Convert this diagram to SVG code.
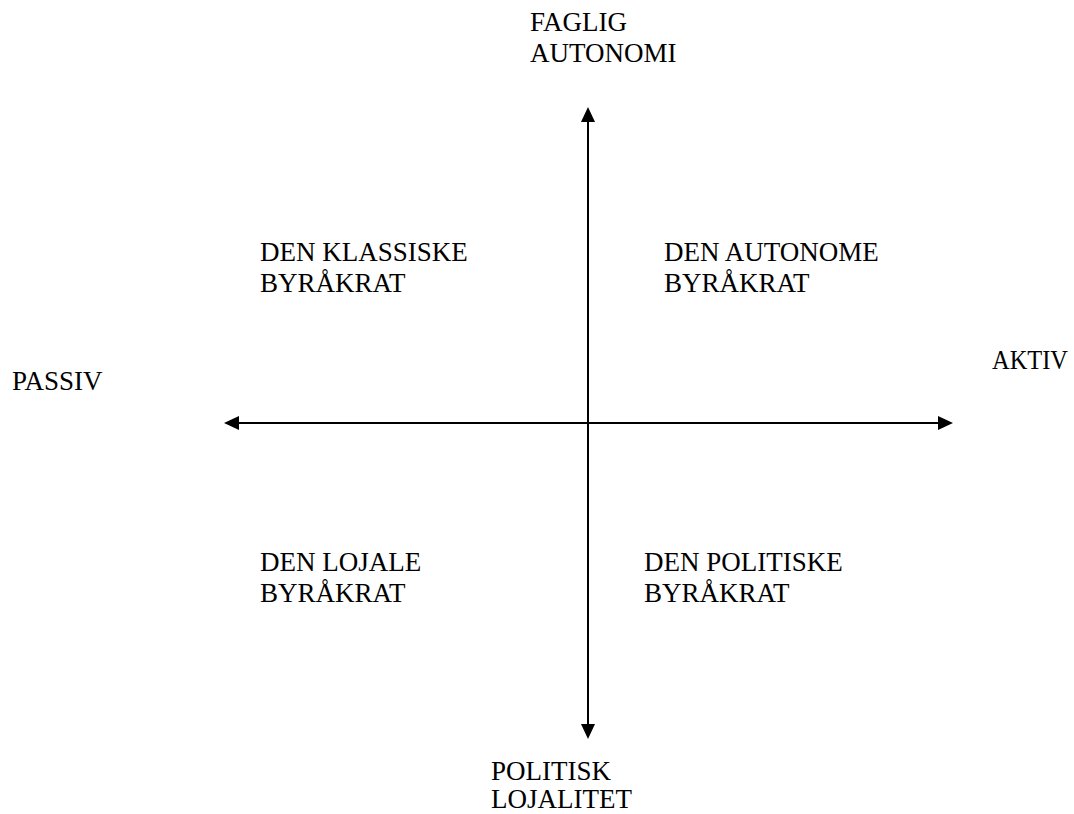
<svg xmlns="http://www.w3.org/2000/svg" width="1074" height="814" viewBox="0 0 1074 814">
  <style>
    .lbl { font-family: "Liberation Serif", "Times New Roman", serif; font-size: 27px; fill: #000; }
    .axis { stroke: #000; stroke-width: 2; fill: none; }
  </style>
  <defs>
    <marker id="head" viewBox="0 0 15 14" refX="0" refY="7" markerWidth="15" markerHeight="14" markerUnits="userSpaceOnUse" orient="auto-start-reverse">
      <polygon points="0,0 15,7 0,14" fill="#000"/>
    </marker>
  </defs>
  <rect width="1074" height="814" fill="#fff"/>

  <!-- axes -->
  <g id="connectors">
    <line class="axis" x1="588" y1="122" x2="588" y2="724" marker-start="url(#head)" marker-end="url(#head)"/>
    <line class="axis" x1="239" y1="423" x2="938" y2="423" marker-start="url(#head)" marker-end="url(#head)"/>
  </g>

  <!-- axis poles -->
  <g id="faglig-autonomi">
    <text class="lbl" x="530" y="31">FAGLIG</text>
    <text class="lbl" x="530" y="62">AUTONOMI</text>
  </g>
  <g id="politisk-lojalitet">
    <text class="lbl" x="491" y="780">POLITISK</text>
    <text class="lbl" x="491" y="808">LOJALITET</text>
  </g>
  <g id="passiv">
    <text class="lbl" x="12" y="390">PASSIV</text>
  </g>
  <g id="aktiv">
    <text class="lbl" x="992" y="369" textLength="76" lengthAdjust="spacingAndGlyphs">AKTIV</text>
  </g>

  <!-- quadrants -->
  <g id="klassiske">
    <text class="lbl" x="260" y="261">DEN KLASSISKE</text>
    <text class="lbl" x="260" y="292">BYRÅKRAT</text>
  </g>
  <g id="autonome">
    <text class="lbl" x="664" y="261">DEN AUTONOME</text>
    <text class="lbl" x="664" y="292">BYRÅKRAT</text>
  </g>
  <g id="lojale">
    <text class="lbl" x="260" y="571">DEN LOJALE</text>
    <text class="lbl" x="260" y="602">BYRÅKRAT</text>
  </g>
  <g id="politiske">
    <text class="lbl" x="644" y="571">DEN POLITISKE</text>
    <text class="lbl" x="644" y="602">BYRÅKRAT</text>
  </g>
</svg>
